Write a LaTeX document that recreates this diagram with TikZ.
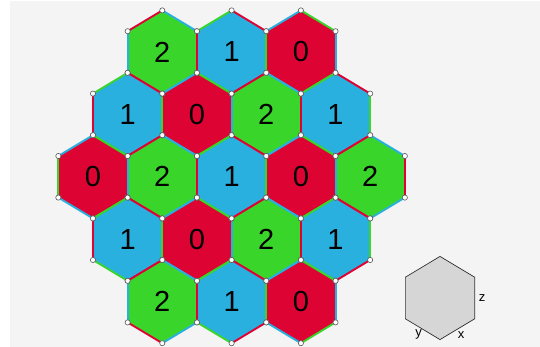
\documentclass[tikz,border=0pt]{standalone}
\usepackage{fontspec}
\setmainfont{Liberation Sans}
\usepackage{xcolor}
\usetikzlibrary{positioning}

\definecolor{col0}{RGB}{221,4,52}
\definecolor{col1}{RGB}{42,176,223}
\definecolor{col2}{RGB}{58,213,43}
\definecolor{canvas}{RGB}{244,244,244}
\definecolor{legendgray}{RGB}{214,214,214}

% hexagon centres: x / y / colour index
\def\hexlist{162.3/52/2, 231.6/52/1, 300.9/52/0,
  127.6/114.4/1, 196.9/114.4/0, 266.2/114.4/2, 335.5/114.4/1,
  93/176.8/0, 162.3/176.8/2, 231.6/176.8/1, 300.9/176.8/0, 370.2/176.8/2,
  127.6/239.2/1, 196.9/239.2/0, 266.2/239.2/2, 335.5/239.2/1,
  162.3/301.6/2, 231.6/301.6/1, 300.9/301.6/0}

\begin{document}
\begin{tikzpicture}[
    x=1pt, y=-1pt,
    digit/.style={font=\fontsize{29}{29}\selectfont, inner sep=0pt},
    edge/.style={line width=1.9pt},
    vertex/.style={circle, fill=white, draw=black!65, line width=0.6pt, inner sep=0pt, minimum size=5.2pt},
    legend/.style={fill=legendgray, draw=black!80, line width=0.7pt},
    axis/.style={font=\fontsize{13}{13}\selectfont, inner sep=0pt}
]
\useasboundingbox (0,0) rectangle (540,347);
\fill[canvas] (10,1) rectangle (540,347);

% Tiles: corners, fill, coloured edges and digit.
\foreach \hx/\hy/\hc [count=\i] in \hexlist {
  \coordinate (h\i-0) at (\hx, \hy-41.6);
  \coordinate (h\i-1) at (\hx+34.65, \hy-20.8);
  \coordinate (h\i-2) at (\hx+34.65, \hy+20.8);
  \coordinate (h\i-3) at (\hx, \hy+41.6);
  \coordinate (h\i-4) at (\hx-34.65, \hy+20.8);
  \coordinate (h\i-5) at (\hx-34.65, \hy-20.8);
  \fill[col\hc] (h\i-0) -- (h\i-1) -- (h\i-2) -- (h\i-3) -- (h\i-4) -- (h\i-5) -- cycle;
  \pgfmathtruncatemacro\cp{mod(\hc+1,3)}
  \pgfmathtruncatemacro\cm{mod(\hc+2,3)}
  \draw[edge, col\cm] (h\i-0) -- (h\i-1);
  \draw[edge, col\cp] (h\i-1) -- (h\i-2);
  \draw[edge, col\cm] (h\i-2) -- (h\i-3);
  \draw[edge, col\cp] (h\i-3) -- (h\i-4);
  \draw[edge, col\cm] (h\i-4) -- (h\i-5);
  \draw[edge, col\cp] (h\i-5) -- (h\i-0);
  \node[digit] (n\i) at (\hx,\hy) {\hc};
}

% Corner markers on top of everything.
\foreach \hx/\hy/\hc [count=\i] in \hexlist {
  \foreach \k in {0,...,5}
    \node[vertex] (d\i-\k) at (h\i-\k) {};
}

% Legend hexagon with edge directions.
\coordinate (lc) at (440,298);
\coordinate (l0) at (440,256.4);
\coordinate (l1) at (474.65,277.2);
\coordinate (l2) at (474.65,318.8);
\coordinate (l3) at (440,339.6);
\coordinate (l4) at (405.35,318.8);
\coordinate (l5) at (405.35,277.2);
\draw[legend] (l0) -- (l1) -- (l2) -- (l3) -- (l4) -- (l5) -- cycle;
\node[axis] (lz) at (482,298) {z};
\node[axis] (ly) at (418.5,334) {y};
\node[axis] (lx) at (461,335) {x};

\end{tikzpicture}
\end{document}
